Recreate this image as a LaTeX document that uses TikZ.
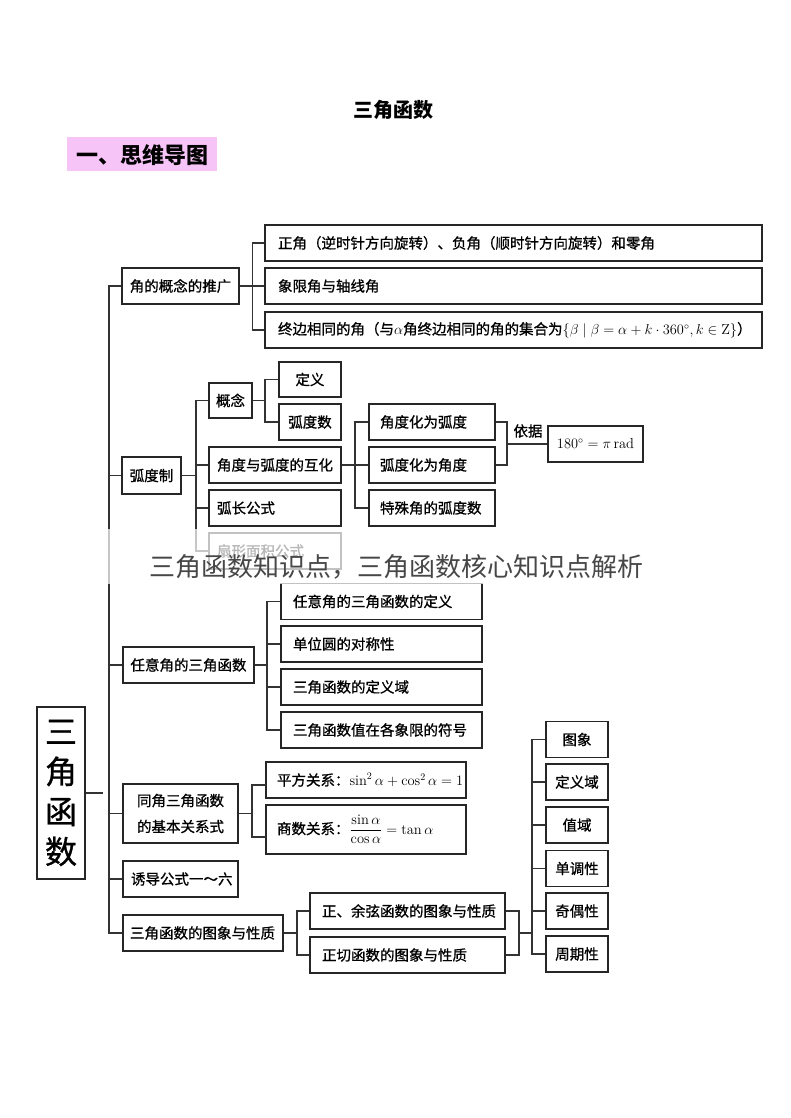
\documentclass[tikz,border=0pt]{standalone}
\usepackage{fontspec}
\usepackage{amsmath}
\newfontfamily\cjk{Noto Sans CJK SC}
\newfontfamily\cjkm[FakeBold=0.9]{Noto Sans CJK SC}
\definecolor{pinkbg}{RGB}{246,196,246}
\newcommand\lft[2]{\makebox[#1pt][l]{#2}}
\begin{document}
\begin{tikzpicture}[x=1pt,y=-1pt,
 bx/.style={draw=black!85, line width=1.3pt, fill=white, inner xsep=0pt, inner ysep=0pt,
   font=\cjkm\fontsize{14.5}{17}\selectfont, text=black, anchor=center},
 ln/.style={draw=black!80, line width=1.1pt},
 lbl/.style={font=\cjkm\fontsize{14.5}{17}\selectfont, text=black, inner sep=0pt}]
\useasboundingbox (0,0) rectangle (790,1118);
\fill[white] (0,0) rectangle (790,1118);

% title and heading
\node[font=\cjk\bfseries\fontsize{20}{22}\selectfont, inner sep=0pt] (title) at (393,110) {三角函数};
\fill[pinkbg] (67,137) rectangle (217,171);
\node[font=\cjk\bfseries\fontsize{22}{24}\selectfont, inner sep=0pt] (head) at (142,155) {一、思维导图};

% root
\node[bx, minimum width=48, minimum height=172, align=center,
  font=\cjkm\fontsize{32}{40}\selectfont] (root) at (61,793) {三\\角\\函\\数};

% level 1
\node[bx, minimum width=117, minimum height=36] (B1) at (180.5,286) {角的概念的推广};
\node[bx, minimum width=59, minimum height=37] (B2) at (151.5,475.5) {弧度制};
\node[bx, minimum width=131, minimum height=36] (B3) at (188.5,665) {任意角的三角函数};
\node[bx, minimum width=115, minimum height=59, align=center,
  font=\cjkm\fontsize{14.5}{26}\selectfont] (B4) at (180.5,813.5) {同角三角函数\\的基本关系式};
\node[bx, minimum width=115, minimum height=36] (B5) at (180.5,879) {\lft{99}{诱导公式一～六}};
\node[bx, minimum width=160, minimum height=36] (B6) at (203,933) {\lft{146}{三角函数的图象与性质}};

% branch 1
\node[bx, minimum width=497, minimum height=36] (C11) at (513.5,243) {\lft{471}{正角（逆时针方向旋转）、负角（顺时针方向旋转）和零角}};
\node[bx, minimum width=497, minimum height=36] (C12) at (513.5,286) {\lft{471}{象限角与轴线角}};
\node[bx, minimum width=497, minimum height=36] (C13) at (513.5,330) {\lft{471}{终边相同的角（与$\alpha$角终边相同的角的集合为$\{\beta\mid\beta=\alpha+k\cdot360^\circ,k\in\mathrm{Z}\}$）}};

% branch 2
\node[bx, minimum width=43, minimum height=35] (D1) at (230.5,400.5) {概念};
\node[bx, minimum width=62, minimum height=35] (DY) at (310,379.5) {定义};
\node[bx, minimum width=62, minimum height=36] (HD) at (310,422) {弧度数};
\node[bx, minimum width=132, minimum height=36] (D2) at (275,465) {\lft{116}{角度与弧度的互化}};
\node[bx, minimum width=132, minimum height=36] (D3) at (275,508) {\lft{116}{弧长公式}};
\node[bx, minimum width=132, minimum height=36] (D4) at (275,551) {\lft{116}{扇形面积公式}};
\node[bx, minimum width=126, minimum height=36] (K1) at (432,422) {\lft{104}{角度化为弧度}};
\node[bx, minimum width=126, minimum height=36] (K2) at (432,465) {\lft{104}{弧度化为角度}};
\node[bx, minimum width=126, minimum height=36] (K3) at (432,508) {\lft{104}{特殊角的弧度数}};
\node[bx, minimum width=95, minimum height=36] (R) at (595.5,444) {$180^\circ=\pi\,\mathrm{rad}$};
\node[lbl] (yj) at (528,431) {依据};

% branch 3
\node[bx, minimum width=201, minimum height=36] (E1) at (381.5,601.5) {\lft{177}{任意角的三角函数的定义}};
\node[bx, minimum width=201, minimum height=36] (E2) at (381.5,644) {\lft{177}{单位圆的对称性}};
\node[bx, minimum width=201, minimum height=36] (E3) at (381.5,687) {\lft{177}{三角函数的定义域}};
\node[bx, minimum width=201, minimum height=36] (E4) at (381.5,730) {\lft{177}{三角函数值在各象限的符号}};

% branch 4
\node[bx, minimum width=200, minimum height=36] (F1) at (366,780) {\lft{178}{平方关系：$\sin^2\alpha+\cos^2\alpha=1$}};
\node[bx, minimum width=200, minimum height=49] (F2) at (366,829.5) {\lft{178}{商数关系：$\dfrac{\sin\alpha}{\cos\alpha}=\tan\alpha$}};

% branch 6
\node[bx, minimum width=195, minimum height=36] (G1) at (407.5,911) {\lft{171}{正、余弦函数的图象与性质}};
\node[bx, minimum width=195, minimum height=36] (G2) at (407.5,955) {\lft{171}{正切函数的图象与性质}};
\node[bx, minimum width=62, minimum height=36] (H1) at (577,739.5) {图象};
\node[bx, minimum width=62, minimum height=36] (H2) at (577,782) {定义域};
\node[bx, minimum width=62, minimum height=36] (H3) at (577,825) {值域};
\node[bx, minimum width=62, minimum height=36] (H4) at (577,868.5) {单调性};
\node[bx, minimum width=62, minimum height=36] (H5) at (577,911) {奇偶性};
\node[bx, minimum width=62, minimum height=36] (H6) at (577,954) {周期性};

% connectors
\coordinate (T) at (109,0);
\coordinate (rootend) at (103,793);
\draw[ln] (root.east) -- (rootend);
\draw[ln] (B1.west) -- (B1.west -| T) -- (B6.west -| T) -- (B6.west);
\foreach \n in {B2,B3,B4,B5} \draw[ln] (\n.west) -- (\n.west -| T);

\coordinate (J1) at (252.5,0);
\draw[ln] (C11.west) -- (C11.west -| J1) -- (C13.west -| J1) -- (C13.west);
\draw[ln] (B1.east) -- (C12.west);

\coordinate (J2) at (196,0);
\draw[ln] (D1.west) -- (D1.west -| J2) -- (D4.west -| J2) -- (D4.west);
\foreach \n in {D2,D3} \draw[ln] (\n.west) -- (\n.west -| J2);
\draw[ln] (B2.east) -- (B2.east -| J2);

\coordinate (J3) at (265,0);
\draw[ln] (DY.west) -- (DY.west -| J3) -- (HD.west -| J3) -- (HD.west);
\draw[ln] (D1.east) -- (D1.east -| J3);

\coordinate (J4) at (355,0);
\draw[ln] (K1.west) -- (K1.west -| J4) -- (K3.west -| J4) -- (K3.west);
\draw[ln] (D2.east) -- (K2.west);

\coordinate (J5) at (507,0);
\draw[ln] (K1.east) -- (K1.east -| J5) -- (K2.east -| J5) -- (K2.east);
\draw[ln] (R.west) -- (R.west -| J5);

\coordinate (J6) at (267,0);
\draw[ln] (E1.west) -- (E1.west -| J6) -- (E4.west -| J6) -- (E4.west);
\foreach \n in {E2,E3} \draw[ln] (\n.west) -- (\n.west -| J6);
\draw[ln] (B3.east) -- (B3.east -| J6);

\coordinate (J7) at (252,0);
\coordinate (f1in) at (266,785);
\coordinate (f2in) at (266,837);
\draw[ln] (f1in) -- (f1in -| J7) -- (f2in -| J7) -- (f2in);
\draw[ln] (B4.east) -- (B4.east -| J7);

\coordinate (J8) at (297,0);
\draw[ln] (G1.west) -- (G1.west -| J8) -- (G2.west -| J8) -- (G2.west);
\draw[ln] (B6.east) -- (B6.east -| J8);

\coordinate (J9) at (519,0);
\coordinate (gm) at (519,933);
\draw[ln] (G1.east) -- (G1.east -| J9) -- (G2.east -| J9) -- (G2.east);
\coordinate (J10) at (532,0);
\draw[ln] (H1.west) -- (H1.west -| J10) -- (H6.west -| J10) -- (H6.west);
\foreach \n in {H2,H3,H4,H5} \draw[ln] (\n.west) -- (\n.west -| J10);
\draw[ln] (gm) -- (gm -| J10);

% watermark overlay
\fill[white, opacity=0.72] (104,529) rectangle (650,584);
\node[font=\cjk\fontsize{26}{28}\selectfont, text=black!72, inner sep=0pt] (wm) at (396,567) {三角函数知识点，三角函数核心知识点解析};
\end{tikzpicture}
\end{document}
